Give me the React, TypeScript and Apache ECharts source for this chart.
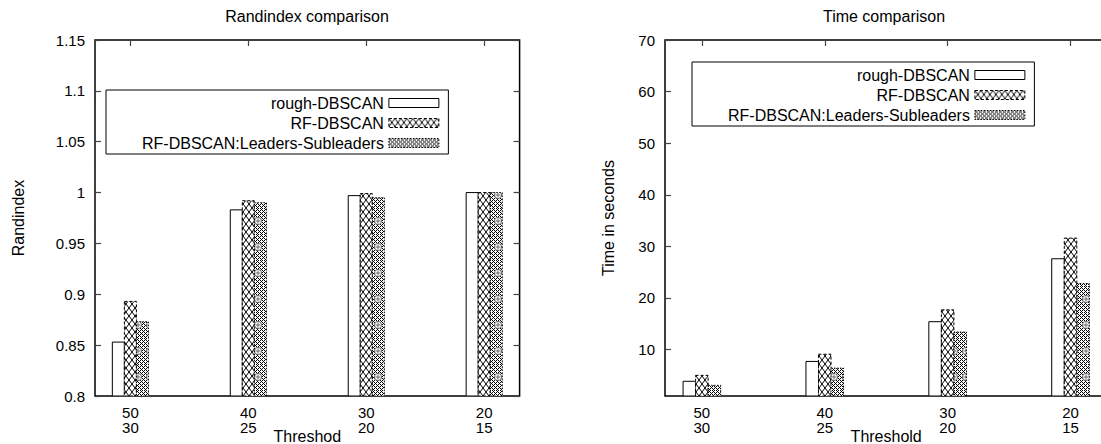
import React, { useEffect, useRef } from "react";
import * as echarts from "echarts";

// Threshold pairs shown under each group of bars
const thresholdTop = ["50", "40", "30", "20"];
const thresholdBottom = ["30", "25", "20", "15"];

const seriesNames = ["rough-DBSCAN", "RF-DBSCAN", "RF-DBSCAN:Leaders-Subleaders"];

// Rand index per threshold pair
const randRough = [0.853, 0.983, 0.997, 1.0];
const randRF = [0.893, 0.992, 0.999, 1.0];
const randLeaders = [0.873, 0.99, 0.995, 1.0];

// Run time (seconds) per threshold pair
const timeRough = [3.85, 7.7, 15.4, 27.6];
const timeRF = [5.0, 9.1, 17.7, 31.6];
const timeLeaders = [3.07, 6.4, 13.4, 22.8];

const timeTicks = [10, 20, 30, 40, 50, 60, 70];
const categoryTicks = [0, 1, 2, 3];

const FONT = "'Liberation Sans', Arial, Helvetica, sans-serif";
const BAR_FRACTION = 0.102;

function crossHatchTile(): string {
  const c = document.createElement("canvas");
  c.width = 6;
  c.height = 8;
  const ctx = c.getContext("2d")!;
  ctx.fillStyle = "#fff";
  ctx.fillRect(0, 0, 6, 8);
  ctx.strokeStyle = "#000";
  ctx.lineWidth = 1;
  ctx.beginPath();
  ctx.moveTo(0, 0);
  ctx.lineTo(6, 8);
  ctx.moveTo(6, 0);
  ctx.lineTo(0, 8);
  ctx.stroke();
  return c.toDataURL();
}

// Dotted mesh with a small ringed cross repeated down the bar
function dottedTile(): string {
  const c = document.createElement("canvas");
  c.width = 12;
  c.height = 26;
  const ctx = c.getContext("2d")!;
  ctx.fillStyle = "#fff";
  ctx.fillRect(0, 0, 12, 26);
  ctx.fillStyle = "#000";
  const base = [
    [1, 0, 1, 0],
    [0, 1, 0, 0],
    [1, 0, 1, 0],
    [0, 0, 0, 1],
  ];
  for (let y = 0; y < 26; y++) {
    for (let x = 0; x < 12; x++) {
      if (base[y % 4][x % 4]) ctx.fillRect(x, y, 1, 1);
    }
  }
  ctx.fillStyle = "#fff";
  ctx.strokeStyle = "#666";
  ctx.lineWidth = 1;
  ctx.beginPath();
  ctx.arc(6, 13, 3.6, 0, Math.PI * 2);
  ctx.fill();
  ctx.stroke();
  ctx.beginPath();
  ctx.moveTo(6, 10.5);
  ctx.lineTo(6, 15.5);
  ctx.moveTo(3.5, 13);
  ctx.lineTo(8.5, 13);
  ctx.stroke();
  return c.toDataURL();
}

export default function App() {
  const ref = useRef<HTMLDivElement>(null);

  useEffect(() => {
    if (!ref.current) return;
    const chart = echarts.init(ref.current, undefined, { renderer: "svg" });

    const hatch = crossHatchTile();
    const dots = dottedTile();

    const fills: any[] = [
      () => "#fff",
      (ox: number) => ({ image: hatch, repeat: "repeat", imageWidth: 6, imageHeight: 8, x: ox }),
      (ox: number) => ({ image: dots, repeat: "repeat", imageWidth: 12, imageHeight: 26, x: ox }),
    ];
    const dashes: any[] = [null, [3, 2], [1.5, 1.5]];

    const makeSeries = (
      name: string,
      k: number,
      values: number[],
      axisIndex: number,
      yMin: number
    ) => ({
      type: "custom",
      name,
      xAxisIndex: axisIndex,
      yAxisIndex: axisIndex,
      clip: true,
      itemStyle: {
        color: fills[k](0),
        borderColor: "#000",
        borderWidth: 1,
      },
      encode: { x: 0, y: 1 },
      data: values.map((v, i) => [i, v]),
      renderItem: (_params: any, api: any) => {
        const xi = api.value(0);
        const v = api.value(1);
        const top = api.coord([xi, v]);
        const base = api.coord([xi, yMin]);
        const unit = api.size([1, 0])[0];
        const w = unit * BAR_FRACTION;
        const x = top[0] + (k - 1) * w - w / 2;
        return {
          type: "rect",
          shape: { x, y: top[1], width: w, height: base[1] - top[1] },
          style: {
            fill: fills[k](x),
            stroke: "#000",
            lineWidth: 1,
            lineDash: dashes[k],
          },
        };
      },
    });

    const legendData = seriesNames.map((n, k) => ({
      name: n,
      itemStyle: {
        borderColor: "#000",
        borderWidth: 1,
        borderType: k === 0 ? "solid" : k === 1 ? [3, 2] : [1.5, 1.5],
      },
    }));

    const legendBase = {
      orient: "vertical",
      align: "right",
      icon: "rect",
      itemWidth: 50,
      itemHeight: 9,
      itemGap: 4,
      padding: [5, 9, 3, 36],
      borderColor: "#000",
      borderWidth: 1,
      selectedMode: false,
      textStyle: { fontSize: 16, color: "#000", fontFamily: FONT },
      data: legendData,
    };

    const tickStyle = { color: "#444", width: 1.2 };
    const labelStyle = { fontSize: 15, color: "#000", fontFamily: FONT };
    const nameStyle = { fontSize: 16, color: "#000", fontFamily: FONT };
    const noLine = { show: false, onZero: false };

    const xAxesFor = (gridIndex: number, name: string) => [
      {
        gridIndex,
        type: "value",
        min: -0.3,
        max: 3.3,
        position: "bottom",
        axisLine: noLine,
        splitLine: { show: false },
        axisTick: { show: false },
        axisLabel: {
          ...labelStyle,
          customValues: categoryTicks,
          margin: 9,
          lineHeight: 15,
          formatter: (v: number) => {
            const i = Math.round(v);
            return `${thresholdTop[i]}\n${thresholdBottom[i]}`;
          },
        },
        name,
        nameLocation: "middle",
        nameGap: 32,
        nameMoveOverlap: false,
        nameTextStyle: nameStyle,
      },
      {
        gridIndex,
        type: "value",
        min: -0.3,
        max: 3.3,
        position: "top",
        axisLine: noLine,
        splitLine: { show: false },
        axisLabel: { show: false },
        axisTick: { show: true, inside: true, length: 6, customValues: categoryTicks, lineStyle: tickStyle },
      },
    ];

    const gridBase = {
      top: 40,
      height: 356,
      show: true,
      borderColor: "#000",
      borderWidth: 1.5,
      backgroundColor: "transparent",
      containLabel: false,
      outerBoundsMode: "none",
    };

    const option: any = {
      animation: false,
      backgroundColor: "#fff",
      graphic: [
        {
          type: "text",
          x: 307,
          y: 16,
          style: { text: "Randindex comparison", align: "center", verticalAlign: "middle", fontSize: 16, fontFamily: FONT, fill: "#000" },
        },
        {
          type: "text",
          x: 884,
          y: 16,
          style: { text: "Time comparison", align: "center", verticalAlign: "middle", fontSize: 16, fontFamily: FONT, fill: "#000" },
        },
      ],
      grid: [
        { ...gridBase, left: 95, width: 424.6 },
        { ...gridBase, left: 665, width: 442.4 },
      ],
      legend: [
        { ...legendBase, left: 106, top: 90 },
        { ...legendBase, left: 692, top: 62 },
      ],
      xAxis: [...xAxesFor(0, "Threshod"), ...xAxesFor(1, "Threshold")],
      yAxis: [
        {
          gridIndex: 0,
          type: "value",
          min: 0.8,
          max: 1.15,
          interval: 0.05,
          position: "left",
          axisLine: noLine,
          splitLine: { show: false },
          axisTick: { show: true, inside: true, length: 6, lineStyle: tickStyle },
          axisLabel: { ...labelStyle, margin: 10 },
          name: "Randindex",
          nameLocation: "middle",
          nameGap: 69,
          nameRotate: 90,
          nameMoveOverlap: false,
          nameTextStyle: nameStyle,
        },
        {
          gridIndex: 0,
          type: "value",
          min: 0.8,
          max: 1.15,
          interval: 0.05,
          position: "right",
          axisLine: noLine,
          splitLine: { show: false },
          axisTick: { show: true, inside: true, length: 6, lineStyle: tickStyle },
          axisLabel: { show: false },
        },
        {
          gridIndex: 1,
          type: "value",
          min: 1,
          max: 70,
          position: "left",
          axisLine: noLine,
          splitLine: { show: false },
          axisTick: { show: true, inside: true, length: 6, customValues: timeTicks, lineStyle: tickStyle },
          axisLabel: { ...labelStyle, margin: 10, customValues: timeTicks },
          name: "Time in seconds",
          nameLocation: "middle",
          nameGap: 49,
          nameRotate: 90,
          nameMoveOverlap: false,
          nameTextStyle: nameStyle,
        },
        {
          gridIndex: 1,
          type: "value",
          min: 1,
          max: 70,
          position: "right",
          axisLine: noLine,
          splitLine: { show: false },
          axisTick: { show: true, inside: true, length: 6, customValues: timeTicks, lineStyle: tickStyle },
          axisLabel: { show: false },
        },
      ],
      series: [
        makeSeries(seriesNames[0], 0, randRough, 0, 0.8),
        makeSeries(seriesNames[1], 1, randRF, 0, 0.8),
        makeSeries(seriesNames[2], 2, randLeaders, 0, 0.8),
        makeSeries(seriesNames[0], 0, timeRough, 2, 1),
        makeSeries(seriesNames[1], 1, timeRF, 2, 1),
        makeSeries(seriesNames[2], 2, timeLeaders, 2, 1),
      ],
    };

    chart.setOption(option);
    return () => chart.dispose();
  }, []);

  return (
    <div
      ref={ref}
      style={{ position: "absolute", left: 0, top: 0, width: 1101, height: 444, background: "#fff" }}
    />
  );
}
